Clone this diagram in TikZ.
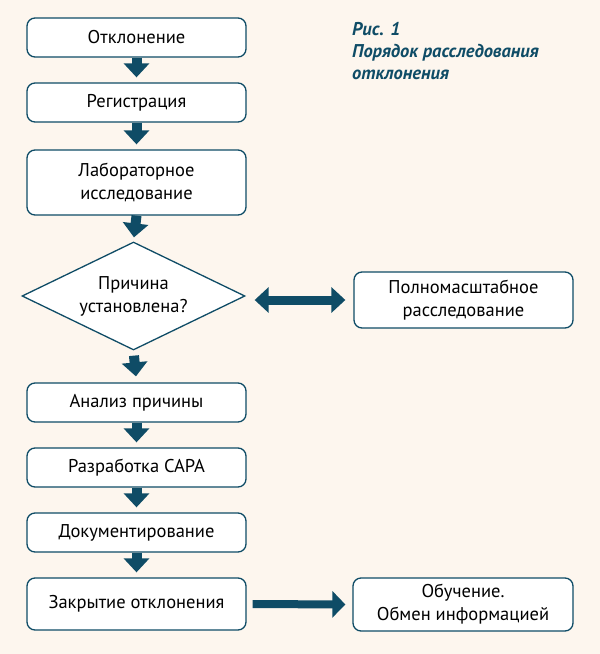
\documentclass[tikz,border=0pt]{standalone}
\usepackage{fontspec}
\setmainfont{PT Sans}
\usetikzlibrary{shapes.geometric,arrows.meta}
\definecolor{teal}{HTML}{0F4C66}
\definecolor{bg}{HTML}{FDF6EE}
\tikzset{
  box/.style={draw=teal, line width=1.3pt, fill=white, rounded corners=8pt,
    align=center, inner sep=0pt, font=\fontsize{18.5}{23}\selectfont},
  dia/.style={draw=teal, line width=1.3pt, fill=white, diamond, aspect=2,
    align=center, inner sep=0pt, font=\fontsize{18.5}{23}\selectfont},
  fat/.style={teal, line width=10pt, -{Triangle[width=25pt,length=14pt]}},
  fatboth/.style={teal, line width=10pt, {Triangle[width=25pt,length=14pt]}-{Triangle[width=25pt,length=14pt]}},
  ttl/.style={text=teal, anchor=north west, align=left, inner sep=0pt,
    font=\bfseries\itshape\fontsize{18.5}{22}\selectfont}
}
\begin{document}
\begin{tikzpicture}[x=1pt,y=-1pt]
\fill[bg] (0,0) rectangle (600,654);
\useasboundingbox (0,0) rectangle (600,654);
\node[box, minimum width=219pt, minimum height=39pt] (b1) at (136.5,37.5) {Отклонение};
\node[box, minimum width=219pt, minimum height=39pt] (b2) at (136.5,102.5) {Регистрация};
\node[box, minimum width=219pt, minimum height=65pt] (b3) at (136.5,182.5) {Лабораторное\\исследование};
\node[dia, minimum width=223pt, minimum height=108pt] (d) at (133.5,296) {Причина\\установлена?};
\node[box, minimum width=219pt, minimum height=56pt] (r1) at (463.5,300) {Полномасштабное\\расследование};
\node[box, minimum width=219pt, minimum height=39pt] (b4) at (136.5,402.5) {Анализ причины};
\node[box, minimum width=219pt, minimum height=39pt] (b5) at (136.5,467.5) {Разработка CAPA};
\node[box, minimum width=219pt, minimum height=39pt] (b6) at (136.5,532.5) {Документирование};
\node[box, minimum width=219pt, minimum height=52pt] (b7) at (136.5,604) {Закрытие отклонения};
\node[box, minimum width=220pt, minimum height=53pt] (r2) at (463,604.5) {Обучение.\\Обмен информацией};
\node[ttl] (t) at (352,22) {Рис. 1\\Порядок расследования\\отклонения};
\draw[fat, shorten >=5pt] (b1.south) -- (b2.north);
\draw[fat, shorten >=5pt] (b2.south) -- (b3.north);
\draw[fat, shorten >=4pt] (b3.south) -- (d.north);
\draw[fat, shorten <=5pt, shorten >=6pt] (d.south) -- (b4.north);
\draw[fat, shorten >=5pt] (b4.south) -- (b5.north);
\draw[fat, shorten >=5pt] (b5.south) -- (b6.north);
\draw[fat, shorten >=5pt] (b6.south) -- (b7.north);
\draw[fatboth, line width=9pt, shorten <=9pt, shorten >=8pt] (d.east |- r1.west) -- (r1.west);
\draw[teal, line width=8pt, -{Triangle[width=26pt,length=13pt]}, shorten <=6pt, shorten >=7pt] (b7.east) -- (r2.west);
\end{tikzpicture}
\end{document}
